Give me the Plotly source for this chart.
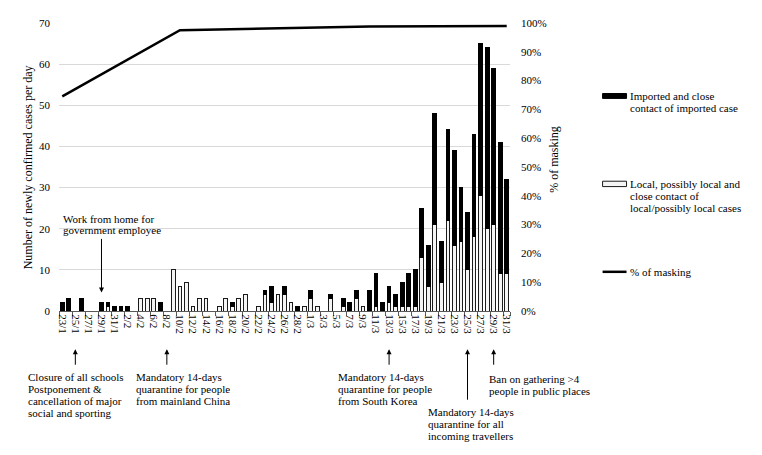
import plotly.graph_objects as go

# ---------------- data ----------------
dates = ["23/1", "24/1", "25/1", "26/1", "27/1", "28/1", "29/1", "30/1", "31/1",
         "1/2", "2/2", "3/2", "4/2", "5/2", "6/2", "7/2", "8/2", "9/2", "10/2",
         "11/2", "12/2", "13/2", "14/2", "15/2", "16/2", "17/2", "18/2", "19/2", "20/2",
         "21/2", "22/2", "23/2", "24/2", "25/2", "26/2", "27/2", "28/2", "29/2",
         "1/3", "2/3", "3/3", "4/3", "5/3", "6/3", "7/3", "8/3", "9/3", "10/3",
         "11/3", "12/3", "13/3", "14/3", "15/3", "16/3", "17/3", "18/3", "19/3", "20/3",
         "21/3", "22/3", "23/3", "24/3", "25/3", "26/3", "27/3", "28/3", "29/3", "30/3", "31/3"]

local_cases = [0, 0, 0, 0, 0, 0, 0, 1, 0,
               0, 0, 0, 3, 3, 3, 0, 0, 10, 6,
               7, 1, 3, 3, 0, 1, 3, 1, 3, 4,
               0, 1, 4, 2, 4, 4, 2, 0, 1,
               3, 1, 0, 3, 0, 1, 0, 3, 1, 0,
               1, 0, 2, 1, 1, 1, 1, 13, 6, 21,
               7, 22, 16, 17, 10, 18, 28, 20, 21, 9, 9]

imported_cases = [2, 3, 0, 3, 0, 0, 2, 1, 1,
                  1, 1, 0, 0, 0, 0, 2, 0, 0, 0,
                  0, 0, 0, 0, 0, 0, 0, 1, 0, 0,
                  0, 0, 1, 4, 0, 2, 0, 1, 0,
                  2, 0, 0, 1, 0, 2, 2, 2, 0, 5,
                  8, 2, 4, 3, 6, 8, 9, 12, 10, 27,
                  10, 22, 23, 13, 14, 25, 37, 44, 38, 32, 23]

mask_dates = ["23/1", "10/2", "10/3", "31/3"]
mask_pct = [74.5, 97.5, 98.8, 99.0]

tick_labels = dates[::2]
y_ticks = [0, 10, 20, 30, 40, 50, 60, 70]
pct_ticks = [0, 10, 20, 30, 40, 50, 60, 70, 80, 90, 100]
pct_labels = ["0%", "10%", "20%", "30%", "40%", "50%", "60%", "70%", "80%", "90%", "100%"]

policy_dates = ["25/1", "8/2", "13/3", "25/3", "29/3"]
policy_texts = [
    ["Closure of all schools", "Postponement &", "cancellation of major", "social and sporting"],
    ["Mandatory 14-days", "quarantine for people", "from mainland China"],
    ["Mandatory 14-days", "quarantine for people", "from South Korea"],
    ["Mandatory 14-days", "quarantine for all", "incoming travellers"],
    ["Ban on gathering >4", "people in public places"],
]
wfh_date = "29/1"
wfh_text = ["Work from home for", "government employee"]

legend_labels = [
    ["Imported and close", "contact of imported case"],
    ["Local, possibly local and", "close contact of", "local/possibly local cases"],
    ["% of masking"],
]

# ---------------- layout helpers ----------------
OFF = 8  # page body margin in the browser
W, H = 762 - OFF, 455 - OFF
L, R, T, B = 58.7, 510.3, 17.0, 311.0
FONT = "Liberation Serif, Times New Roman, serif"


def px(x):
    return (x - L) / (R - L)


def py(y):
    return (B - y) / (B - T)


def nz(v):
    return [a if a else None for a in v]


fig = go.Figure()
fig.add_trace(go.Bar(x=dates, y=nz(local_cases), name="local",
                     marker=dict(color="#f4f4f4", line=dict(color="#1a1a1a", width=1)),
                     showlegend=False))
fig.add_trace(go.Bar(x=dates, y=nz(imported_cases), name="imported",
                     marker=dict(color="#000000", line=dict(color="#000000", width=1)),
                     showlegend=False))
fig.add_trace(go.Scatter(x=mask_dates, y=mask_pct, yaxis="y2", mode="lines",
                         line=dict(color="#000000", width=2.5), showlegend=False))

ann = []
shapes = []

# policy arrows below axis
tail_len = [17, 17, 17, 52, 17]
text_left = [26, 134, 336.5, 426.6, 487.3]
text_top = [378, 378, 378, 414, 380]
for d, tl, lines, xl, yt in zip(policy_dates, tail_len, policy_texts, text_left, text_top):
    ann.append(dict(x=d, xref="x", y=py(350), yref="paper", text="", showarrow=True,
                    arrowhead=2, arrowsize=1, arrowwidth=1, arrowcolor="#000",
                    ax=0, ay=tl))
    for i, s in enumerate(lines):
        ann.append(dict(x=px(xl), xref="paper", y=py(yt + 12.3 * i), yref="paper",
                        text=s, showarrow=False, xanchor="left", yanchor="middle",
                        font=dict(family=FONT, size=11, color="#000")))

# work from home annotation
ann.append(dict(x=wfh_date, xref="x", y=py(292), yref="paper", text="", showarrow=True,
                arrowhead=2, arrowsize=1, arrowwidth=1, arrowcolor="#000", ax=0, ay=-55))
for i, s in enumerate(wfh_text):
    ann.append(dict(x=px(61), xref="paper", y=py(216.7 + 11.6 * i), yref="paper", text=s,
                    showarrow=False, xanchor="left", yanchor="middle",
                    font=dict(family=FONT, size=11, color="#000")))

# axis titles
ann.append(dict(x=px(28), xref="paper", y=0.5, yref="paper",
                text="Number of newly confirmed cases per day", textangle=-90,
                showarrow=False, xanchor="center", yanchor="middle",
                font=dict(family=FONT, size=12, color="#000")))
ann.append(dict(x=px(555), xref="paper", y=py(156), yref="paper",
                text="% of masking", textangle=-90,
                showarrow=False, xanchor="center", yanchor="middle",
                font=dict(family=FONT, size=12, color="#000")))

# manual legend
leg_y = [[91.5, 103.5], [181, 193.3, 205.6], [271.5]]
shapes.append(dict(type="rect", xref="paper", yref="paper", x0=px(603), x1=px(627),
                   y0=py(94), y1=py(89), fillcolor="#000", line=dict(color="#000", width=1)))
shapes.append(dict(type="rect", xref="paper", yref="paper", x0=px(603), x1=px(627),
                   y0=py(184), y1=py(178.5), fillcolor="#f4f4f4", line=dict(color="#1a1a1a", width=1)))
shapes.append(dict(type="line", xref="paper", yref="paper", x0=px(603), x1=px(627),
                   y0=py(271), y1=py(271), line=dict(color="#000", width=2.5)))
for lines, ys in zip(legend_labels, leg_y):
    for s, yy in zip(lines, ys):
        ann.append(dict(x=px(628), xref="paper", y=py(yy), yref="paper", text=s,
                        showarrow=False, xanchor="left", yanchor="middle",
                        font=dict(family=FONT, size=11, color="#000")))

fig.update_layout(
    width=W, height=H,
    margin=dict(l=L - OFF, r=762 - R, t=T - OFF, b=455 - B, pad=0),
    paper_bgcolor="#ffffff", plot_bgcolor="#ffffff",
    barmode="stack", bargap=0.42,
    font=dict(family=FONT, size=11, color="#000"),
    xaxis=dict(type="category", categoryorder="array", categoryarray=dates,
               tickmode="array", tickvals=tick_labels, ticktext=tick_labels,
               tickangle=90, ticks="outside", ticklen=4, tickcolor="#595959",
               tickson="boundaries",
               showline=True, linecolor="#595959", linewidth=1, showgrid=False,
               tickfont=dict(family=FONT, size=11, color="#000"), fixedrange=True),
    yaxis=dict(range=[0, 70], tickvals=y_ticks, showgrid=True, gridcolor="#d9d9d9",
               gridwidth=1, zeroline=False, showline=False, ticks="",
               ticklabelstandoff=8,
               tickfont=dict(family=FONT, size=11, color="#000")),
    yaxis2=dict(range=[0, 100], overlaying="y", side="right", tickmode="array",
                tickvals=pct_ticks, ticktext=pct_labels,
                showgrid=False, zeroline=False, showline=False, ticks="",
                ticklabelstandoff=10,
                tickfont=dict(family=FONT, size=11, color="#000")),
    annotations=ann,
    shapes=shapes,
)

fig.write_html("out.html")
